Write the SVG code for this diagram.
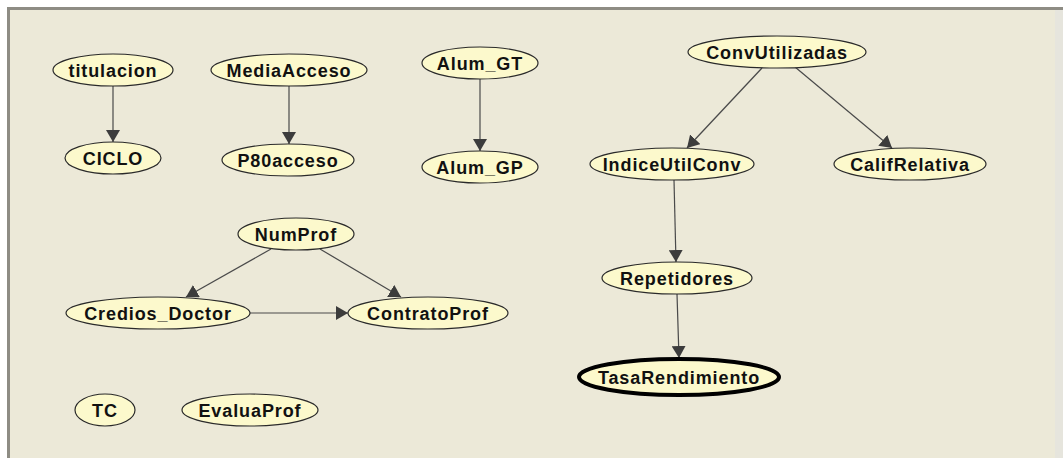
<svg xmlns="http://www.w3.org/2000/svg" width="1063" height="458" viewBox="0 0 1063 458">
  <style>
    .node ellipse { fill: #FCF9CC; stroke: #2a2a2a; stroke-width: 1.2; }
    .node text { font-family: "Liberation Sans", Arial, sans-serif; font-weight: bold; font-size: 18px; letter-spacing: 0.9px; fill: #111; text-anchor: middle; }
    .node.query ellipse { stroke: #000; stroke-width: 4; }
    .edges line { stroke: #4a4a4a; stroke-width: 1.2; marker-end: url(#arrow); }
  </style>
  <defs>
    <marker id="arrow" markerUnits="userSpaceOnUse" markerWidth="14" markerHeight="14" refX="12" refY="7" orient="auto">
      <path d="M0,0 L12,7 L0,14 z" fill="#3c3c3c"/>
    </marker>
  </defs>

  <!-- window background and frame -->
  <rect x="0" y="0" width="1063" height="458" fill="#ffffff"/>
  <rect x="7" y="7" width="1056" height="451" fill="#ECE9D8"/>
  <rect x="1055" y="10" width="8" height="448" fill="#E6E5DD"/>
  <rect x="7" y="7" width="1056" height="3" fill="#8E8C84"/>
  <rect x="7" y="7" width="3" height="451" fill="#8E8C84"/>

  <!-- connectors -->
  <g id="edges" class="edges">
    <line x1="113" y1="86" x2="113" y2="142"/>
    <line x1="289" y1="86" x2="289" y2="144"/>
    <line x1="480" y1="79" x2="480" y2="151"/>
    <line x1="762" y1="68" x2="687" y2="148"/>
    <line x1="795" y1="67" x2="892" y2="148"/>
    <line x1="271" y1="249" x2="186" y2="297"/>
    <line x1="320" y1="249" x2="401" y2="297"/>
    <line x1="250" y1="313" x2="348" y2="313"/>
    <line x1="674" y1="180" x2="676" y2="262"/>
    <line x1="677" y1="294" x2="679" y2="358"/>
  </g>

  <!-- nodes -->
  <g id="titulacion" class="node"><ellipse cx="113" cy="70" rx="60" ry="16"/><text x="113" y="76.5">titulacion</text></g>
  <g id="CICLO" class="node"><ellipse cx="113" cy="158" rx="48" ry="16"/><text x="113" y="164.5">CICLO</text></g>
  <g id="MediaAcceso" class="node"><ellipse cx="289" cy="70" rx="78" ry="16"/><text x="289" y="76.5">MediaAcceso</text></g>
  <g id="P80acceso" class="node"><ellipse cx="288" cy="160" rx="66" ry="16"/><text x="288" y="166.5">P80acceso</text></g>
  <g id="Alum_GT" class="node"><ellipse cx="480" cy="63" rx="58" ry="16"/><text x="480" y="69.5">Alum_GT</text></g>
  <g id="Alum_GP" class="node"><ellipse cx="480" cy="167" rx="58" ry="16"/><text x="480" y="173.5">Alum_GP</text></g>
  <g id="ConvUtilizadas" class="node"><ellipse cx="777" cy="52" rx="89" ry="16"/><text x="777" y="58.5">ConvUtilizadas</text></g>
  <g id="IndiceUtilConv" class="node"><ellipse cx="672" cy="164" rx="82" ry="16"/><text x="672" y="170.5">IndiceUtilConv</text></g>
  <g id="CalifRelativa" class="node"><ellipse cx="910" cy="164" rx="76" ry="16"/><text x="910" y="170.5">CalifRelativa</text></g>
  <g id="NumProf" class="node"><ellipse cx="296" cy="234" rx="58" ry="16"/><text x="296" y="240.5">NumProf</text></g>
  <g id="Credios_Doctor" class="node"><ellipse cx="158" cy="313" rx="92" ry="16"/><text x="158" y="319.5">Credios_Doctor</text></g>
  <g id="ContratoProf" class="node"><ellipse cx="428" cy="313" rx="80" ry="16"/><text x="428" y="319.5">ContratoProf</text></g>
  <g id="Repetidores" class="node"><ellipse cx="677" cy="278" rx="75" ry="16"/><text x="677" y="284.5">Repetidores</text></g>
  <g id="TasaRendimiento" class="node query"><ellipse cx="679" cy="377" rx="100" ry="18"/><text x="679" y="383.5">TasaRendimiento</text></g>
  <g id="TC" class="node"><ellipse cx="105" cy="410" rx="30" ry="16"/><text x="105" y="416.5">TC</text></g>
  <g id="EvaluaProf" class="node"><ellipse cx="250" cy="410" rx="68" ry="16"/><text x="250" y="416.5">EvaluaProf</text></g>
</svg>
